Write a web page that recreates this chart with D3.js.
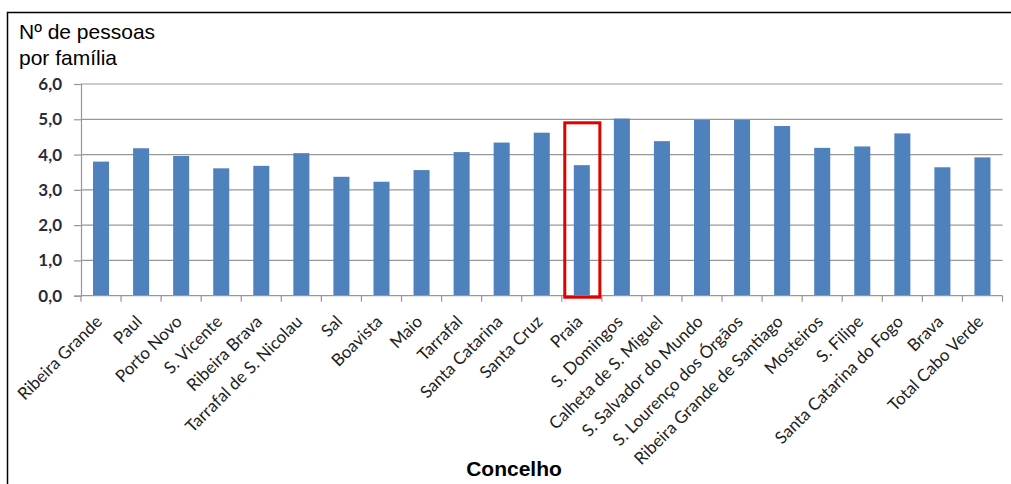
<!DOCTYPE html>
<html>
<head>
<meta charset="utf-8">
<script src="https://cdn.jsdelivr.net/npm/d3@7/dist/d3.min.js"></script>
<style>
  html, body { margin: 0; padding: 0; background: #fff; }
  svg { display: block; }
</style>
</head>
<body>
<svg id="chart" width="1011" height="484"></svg>
<script>
// Average household size by municipality (concelho), Cabo Verde
const concelhos = [
  "Ribeira Grande", "Paul", "Porto Novo", "S. Vicente", "Ribeira Brava",
  "Tarrafal de S. Nicolau", "Sal", "Boavista", "Maio", "Tarrafal",
  "Santa Catarina", "Santa Cruz", "Praia", "S. Domingos", "Calheta de S. Miguel",
  "S. Salvador do Mundo", "S. Lourenço dos Órgãos", "Ribeira Grande de Santiago",
  "Mosteiros", "S. Filipe", "Santa Catarina do Fogo", "Brava", "Total Cabo Verde"
];
const pessoasPorFamilia = [
  3.80, 4.18, 3.96, 3.61, 3.68,
  4.04, 3.37, 3.23, 3.56, 4.07,
  4.34, 4.62, 3.70, 5.02, 4.38,
  4.98, 4.98, 4.81, 4.19, 4.23,
  4.60, 3.64, 3.92
];
const yTicks = [0, 1, 2, 3, 4, 5, 6];
const highlighted = "Praia";

const svg = d3.select("#chart");
const plot = { left: 81, right: 1002.5, top: 84, bottom: 295.7 };

// outer frame (top and left edges)
svg.append("path")
  .attr("d", `M7.5,${484} V12.5 H1011`)
  .attr("fill", "none").attr("stroke", "#000").attr("stroke-width", 1.5);

const x = d3.scaleBand().domain(concelhos).range([plot.left, plot.right]).paddingInner(0.6).paddingOuter(0.3);
const xTicks = d3.scaleBand().domain(concelhos).range([plot.left, plot.right]);
const y = d3.scaleLinear().domain([0, 6]).range([plot.bottom, plot.top]);

// horizontal gridlines
svg.append("g").selectAll("line").data(yTicks.filter(d => d > 0)).join("line")
  .attr("x1", plot.left).attr("x2", plot.right)
  .attr("y1", d => y(d)).attr("y2", d => y(d))
  .attr("stroke", "#979797").attr("stroke-width", 1.2);

// y axis
const yAxis = svg.append("g").attr("transform", `translate(${plot.left},0)`)
  .call(d3.axisLeft(y).tickValues(yTicks).tickSize(7).tickPadding(12)
    .tickFormat(d => d3.format(".1f")(d).replace(".", ",")));
yAxis.select(".domain").attr("stroke", "#979797").attr("stroke-width", 1.2);
yAxis.selectAll(".tick line").attr("stroke", "#979797").attr("stroke-width", 1.2);
yAxis.selectAll("text")
  .attr("font-family", "Lato, 'Open Sans', sans-serif").attr("font-weight", "bold")
  .attr("font-size", 17).attr("fill", "#2b2b3a");

// bars
svg.append("g").selectAll("rect").data(concelhos).join("rect")
  .attr("x", d => x(d))
  .attr("width", x.bandwidth())
  .attr("y", (d, i) => y(pessoasPorFamilia[i]))
  .attr("height", (d, i) => y(0) - y(pessoasPorFamilia[i]))
  .attr("fill", "#4f81bd");

// x axis with boundary ticks between categories
const xg = svg.append("g").attr("transform", `translate(0,${plot.bottom})`);
xg.append("line").attr("x1", plot.left).attr("x2", plot.right)
  .attr("stroke", "#979797").attr("stroke-width", 1.2);
const bounds = concelhos.map(d => xTicks(d)).concat([plot.right]);
xg.selectAll("line.tk").data(bounds).join("line").attr("class", "tk")
  .attr("x1", d => d).attr("x2", d => d).attr("y1", 0).attr("y2", 6)
  .attr("stroke", "#979797").attr("stroke-width", 1.2);
xg.selectAll("text").data(concelhos).join("text")
  .attr("transform", d => `translate(${xTicks(d) + xTicks.bandwidth() / 2 + 2},27) rotate(-45)`)
  .attr("text-anchor", "end")
  .attr("font-family", "Lato, 'Open Sans', sans-serif")
  .attr("font-size", 17).attr("fill", "#222")
  .text(d => d);

// highlight box around Praia
const hb = xTicks(highlighted);
svg.append("rect")
  .attr("x", hb + 3).attr("width", xTicks.bandwidth() - 5)
  .attr("y", y(4.9)).attr("height", y(0) + 1.5 - y(4.9))
  .attr("fill", "none").attr("stroke", "#e00000").attr("stroke-width", 3);

// titles
const title = svg.append("text")
  .attr("font-family", "'Liberation Sans', Arial, sans-serif").attr("font-size", 21).attr("fill", "#000");
title.append("tspan").attr("x", 19).attr("y", 39).text("Nº de pessoas");
title.append("tspan").attr("x", 19).attr("y", 65).text("por família");

svg.append("text")
  .attr("x", 514).attr("y", 476)
  .attr("text-anchor", "middle")
  .attr("font-family", "'Liberation Sans', Arial, sans-serif").attr("font-weight", "bold")
  .attr("font-size", 21).attr("fill", "#000")
  .text("Concelho");
</script>
</body>
</html>
